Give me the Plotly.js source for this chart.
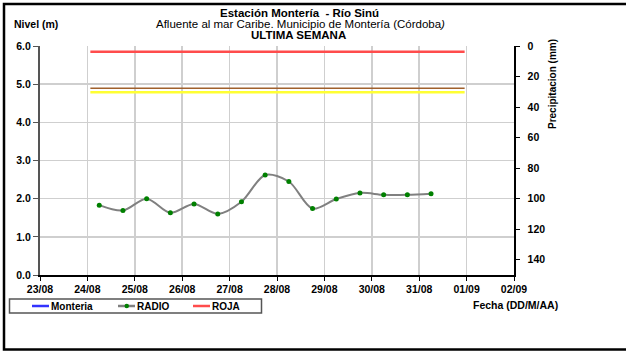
<!DOCTYPE html>
<html>
<head>
<meta charset="utf-8">
<script src="https://cdn.plot.ly/plotly-3.0.1.min.js"></script>
<style>html,body{margin:0;padding:0;background:#fff;}#chart{width:626px;height:351px;}</style>
</head>
<body>
<div id="chart"></div>
<script>
// Data
const radioDates = ['2023-08-24 06:00','2023-08-24 18:00','2023-08-25 06:00','2023-08-25 18:00','2023-08-26 06:00','2023-08-26 18:00','2023-08-27 06:00','2023-08-27 18:00','2023-08-28 06:00','2023-08-28 18:00','2023-08-29 06:00','2023-08-29 18:00','2023-08-30 06:00','2023-08-30 18:00','2023-08-31 06:00'];
const radioLevels = [1.83, 1.69, 2.00, 1.63, 1.86, 1.60, 1.92, 2.62, 2.45, 1.74, 1.99, 2.15, 2.10, 2.10, 2.13];
const thresholdDates = ['2023-08-24 01:30', '2023-08-31 23:00'];
const rojaLevel = [5.85, 5.85];
const naranjaLevel = [4.89, 4.89];
const amarillaLevel = [4.79, 4.79];
const monteriaDates = [null];
const monteriaLevels = [null];
const precipDates = [];
const precipValues = [];
const legendNames = ['Monteria', 'RADIO', 'ROJA'];
const legendColors = ['#3333ff', '#808080', '#ff4c4c'];

const FONT = 'Arial, "Liberation Sans", sans-serif';

const traces = [
  {x: monteriaDates, y: monteriaLevels, name: 'Monteria', mode: 'lines', line: {color: '#3333ff', width: 2}},
  {x: radioDates, y: radioLevels, name: 'RADIO', mode: 'lines+markers', line: {color: '#808080', width: 2, shape: 'spline', smoothing: 0.9}, marker: {color: '#008000', size: 5}},
  {x: thresholdDates, y: rojaLevel, name: 'ROJA', mode: 'lines', line: {color: '#ff4c4c', width: 2.5}},
  {x: thresholdDates, y: naranjaLevel, name: 'NARANJA', mode: 'lines', line: {color: '#a0602c', width: 1.5}},
  {x: thresholdDates, y: amarillaLevel, name: 'AMARILLA', mode: 'lines', line: {color: '#ffff33', width: 2.5}},
  {x: precipDates, y: precipValues, name: 'Precipitacion', yaxis: 'y2', type: 'bar'}
];

const L = 40, R = 514, T = 46, B = 275;
const px = v => (v - L) / (R - L);
const py = v => (B - v) / (B - T);

const annotations = [
  {text: '<b>Estación Montería  - Río Sinú</b>', x: px(299), y: py(13), font: {size: 11.5}},
  {text: 'Afluente al mar Caribe. Municipio de Montería (Córdoba<i>)</i>', x: px(300), y: py(24), font: {size: 11.5}},
  {text: '<b>ULTIMA SEMANA</b>', x: px(298), y: py(35), font: {size: 11.5}},
  {text: '<b>Nivel (m)</b>', x: px(12), y: py(24), xanchor: 'left', font: {size: 10.5}},
  {text: '<b>Precipitacion (mm)</b>', x: px(552), y: py(84), textangle: -90, font: {size: 10}},
  {text: '<b>Fecha (DD/M/AA)</b>', x: px(515), y: py(305), font: {size: 10.5}}
];

const shapes = [
  {type: 'rect', xref: 'paper', yref: 'paper', x0: px(4), x1: px(700), y0: py(349.5), y1: py(4), line: {color: '#000', width: 2.5}, fillcolor: 'rgba(0,0,0,0)', layer: 'above'},
  {type: 'rect', xref: 'paper', yref: 'paper', x0: px(9.5), x1: px(261.5), y0: py(313), y1: py(299), line: {color: '#555', width: 1.5}, fillcolor: '#fff', layer: 'above'}
];

// manual legend (compact, like the reference)
const legendStarts = [32, 118, 193];
legendNames.forEach((nm, i) => {
  const x0 = legendStarts[i];
  shapes.push({type: 'line', xref: 'paper', yref: 'paper', x0: px(x0), x1: px(x0 + 17), y0: py(306), y1: py(306), line: {color: legendColors[i], width: 2.5}, layer: 'above'});
  annotations.push({text: '<b>' + nm + '</b>', x: px(x0 + 17), y: py(306), xanchor: 'left', font: {size: 10}});
});
shapes.push({type: 'circle', xref: 'paper', yref: 'paper', x0: px(124.5), x1: px(129), y0: py(308.3), y1: py(303.7), line: {color: '#008000', width: 0}, fillcolor: '#008000', layer: 'above'});

annotations.forEach(a => { a.xref = 'paper'; a.yref = 'paper'; a.showarrow = false; if (!a.xanchor) a.xanchor = 'center'; a.yanchor = 'middle'; });

const layout = {
  width: 626, height: 351,
  margin: {l: L, r: 626 - R, t: T, b: 351 - B},
  paper_bgcolor: '#ffffff', plot_bgcolor: '#ffffff',
  font: {family: FONT, size: 10, color: '#000'},
  showlegend: false,
  xaxis: {
    type: 'date', range: ['2023-08-23', '2023-09-02'],
    tick0: '2023-08-23', dtick: 86400000, tickformat: '%d/%m',
    showgrid: true, gridcolor: '#cfcfcf', gridwidth: 1.5,
    showline: true, linecolor: '#000', linewidth: 1.5,
    ticks: 'outside', ticklen: 4, tickcolor: '#000',
    tickfont: {family: FONT, size: 10.5, weight: 'bold'}, zeroline: false
  },
  yaxis: {
    range: [0, 6], dtick: 1, tickformat: '.1f',
    showgrid: true, gridcolor: '#cfcfcf', gridwidth: 1.5,
    showline: true, linecolor: '#555555', linewidth: 2,
    ticks: 'outside', ticklen: 5, tickcolor: '#555',
    tickfont: {family: FONT, size: 10.5, weight: 'bold'}, zeroline: false
  },
  yaxis2: {
    overlaying: 'y', side: 'right', range: [150, 0], dtick: 20,
    showgrid: false, showline: true, linecolor: '#000', linewidth: 1.5,
    ticks: 'outside', ticklen: 4, tickcolor: '#000', ticklabelstandoff: 6,
    tickfont: {family: FONT, size: 10.5, weight: 'bold'}, zeroline: false
  },
  annotations: annotations,
  shapes: shapes
};

Plotly.newPlot('chart', traces, layout, {staticPlot: true, displayModeBar: false});
</script>
</body>
</html>
